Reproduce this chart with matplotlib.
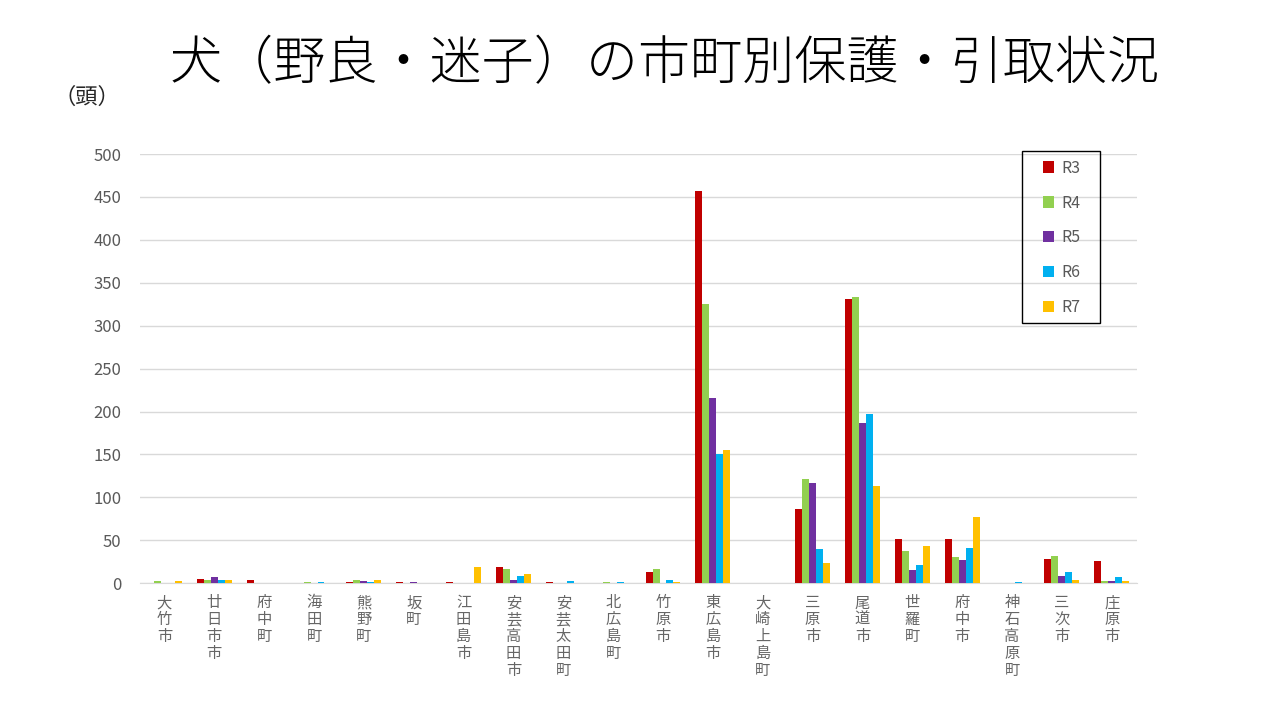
import numpy as np
from matplotlib import pyplot
from matplotlib.patches import Rectangle

pyplot.rcParams['font.family'] = ['Noto Sans CJK JP', 'DejaVu Sans']

#----------------------
#データ
#----------------------
cities = ["大竹市", "廿日市市", "府中町", "海田町", "熊野町", "坂町", "江田島市",
          "安芸高田市", "安芸太田町", "北広島町", "竹原市", "東広島市", "大崎上島町",
          "三原市", "尾道市", "世羅町", "府中市", "神石高原町", "三次市", "庄原市"]

r3 = [0, 5, 4, 0, 1, 1, 1, 19, 1, 0, 13, 457, 0, 87, 331, 52, 52, 0, 28, 26]
r4 = [2, 4, 0, 1, 4, 0, 0, 17, 0, 1, 17, 325, 0, 121, 334, 38, 31, 0, 32, 3]
r5 = [0, 7, 0, 0, 2, 1, 0, 4, 0, 0, 0, 216, 0, 117, 187, 15, 27, 0, 8, 3]
r6 = [0, 4, 0, 1, 1, 0, 0, 8, 2, 1, 4, 151, 0, 40, 197, 21, 41, 1, 13, 7]
r7 = [2, 4, 0, 0, 4, 0, 19, 11, 0, 0, 1, 155, 0, 24, 113, 43, 77, 0, 4, 3]

series = [("R3", r3, "#C00000"), ("R4", r4, "#92D050"), ("R5", r5, "#7030A0"),
          ("R6", r6, "#00B0F0"), ("R7", r7, "#FFC000")]

fig = pyplot.figure(figsize=(12.8, 7.2), dpi=100)
ax = fig.add_axes([0.109, 0.190, 0.779, 0.596])

x = np.arange(len(cities))
w = 0.14
for i, (name, vals, col) in enumerate(series):
    ax.bar(x + (i - 2) * w, vals, width=w, color=col, label=name, zorder=3)

ax.set_xlim(-0.5, len(cities) - 0.5)
ax.set_ylim(0, 500)
ax.set_yticks(range(0, 501, 50))
ax.grid(axis="y", color="#D9D9D9", linewidth=1, zorder=0)
ax.tick_params(axis="both", length=0, colors="#595959", labelsize=12)
ax.tick_params(axis="y", pad=13)
ax.tick_params(axis="x", pad=8)
ax.set_xticks(x)
ax.set_xticklabels(["\n".join(c) for c in cities], fontsize=11, color="#666666",
                   linespacing=1.0, va="top")
for s in ["top", "right", "left"]:
    ax.spines[s].set_visible(False)
ax.spines["bottom"].set_color("#D9D9D9")

#凡例（枠は別に描く）
leg = ax.legend(loc="upper left", bbox_to_anchor=(0.906, 0.987), fontsize=11.5,
                frameon=False, handlelength=0.7, handleheight=0.7,
                labelspacing=1.12, borderpad=0, borderaxespad=0, handletextpad=0.45)
for t in leg.get_texts():
    t.set_color("#595959")
ax.add_patch(Rectangle((0.8847, 0.606), 0.0783, 0.401, transform=ax.transAxes,
                       fill=False, edgecolor="black", linewidth=1.0, clip_on=False,
                       zorder=5))

fig.text(0.5195, 0.910, "犬（野良・迷子）の市町別保護・引取状況", fontsize=37.5,
         ha="center", va="center", fontweight="light")
fig.text(0.042, 0.865, "（頭）", fontsize=16, ha="left", va="center", color="#262626")

fig.savefig("out.png", dpi=100)
